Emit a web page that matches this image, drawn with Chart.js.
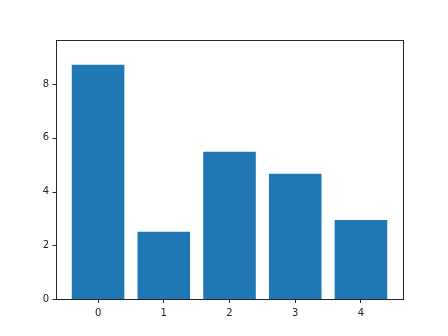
<!DOCTYPE html>
<html>
<head>
<meta charset="utf-8">
<script src="https://cdn.jsdelivr.net/npm/chart.js@4"></script>
<style>
  html, body { margin: 0; padding: 0; background: #fff; }
  #wrap { width: 448px; height: 336px; }
</style>
</head>
<body>
<div id="wrap"><canvas id="bars"></canvas></div>
<script>
// DATA
const categories = [0, 1, 2, 3, 4];
const values = [8.72, 2.50, 5.48, 4.66, 2.94];
const xTicks = [0, 1, 2, 3, 4];
const yTicks = [0, 2, 4, 6, 8];

// frame round the plot area plus the y tick marks
// (y grid is off so bars sit right on the bottom spine)
const framePlugin = {
    id: 'frame',
    afterDraw(chart) {
        const a = chart.chartArea;
        const ctx = chart.ctx;
        const y = chart.scales.y;
        const left = Math.round(a.left) + 0.5;
        ctx.save();
        ctx.strokeStyle = '#262626';
        ctx.lineWidth = 1;
        ctx.strokeRect(left, Math.round(a.top) + 0.5,
            Math.round(a.right - a.left), Math.round(a.bottom - a.top));
        ctx.beginPath();
        yTicks.forEach(v => {
            const py = Math.round(y.getPixelForValue(v)) + 0.5;
            ctx.moveTo(left - 4, py);
            ctx.lineTo(left, py);
        });
        ctx.stroke();
        ctx.restore();
    }
};

Chart.defaults.font.family = '"DejaVu Sans", sans-serif';
Chart.defaults.font.size = 10;
Chart.defaults.color = '#262626';

new Chart(document.getElementById('bars'), {
    type: 'bar',
    data: {
        datasets: [{
            data: categories.map((c, i) => ({ x: c, y: values[i] })),
            backgroundColor: '#1f77b4',
            borderWidth: 0,
            inflateAmount: 0,
            categoryPercentage: 1,
            barPercentage: 0.8
        }]
    },
    options: {
        responsive: true,
        maintainAspectRatio: false,
        animation: false,
        layout: { padding: { top: 40, right: 45, left: 0, bottom: 0 } },
        plugins: { legend: { display: false }, tooltip: { enabled: false } },
        scales: {
            x: {
                type: 'linear',
                offset: false,
                min: -0.64,
                max: 4.64,
                afterBuildTicks: axis => { axis.ticks = xTicks.map(v => ({ value: v })); },
                afterFit: axis => { axis.height = 37; },
                grid: { offset: false, drawOnChartArea: false, tickLength: 4, color: '#262626' },
                border: { display: false },
                ticks: { padding: 4, maxRotation: 0, autoSkip: false }
            },
            y: {
                min: 0,
                max: 9.64,
                afterBuildTicks: axis => { axis.ticks = yTicks.map(v => ({ value: v })); },
                afterFit: axis => { axis.width = 56; },
                grid: { display: false, drawTicks: false },
                border: { display: false },
                ticks: { padding: 7 }
            }
        }
    },
    plugins: [framePlugin]
});
</script>
</body>
</html>
